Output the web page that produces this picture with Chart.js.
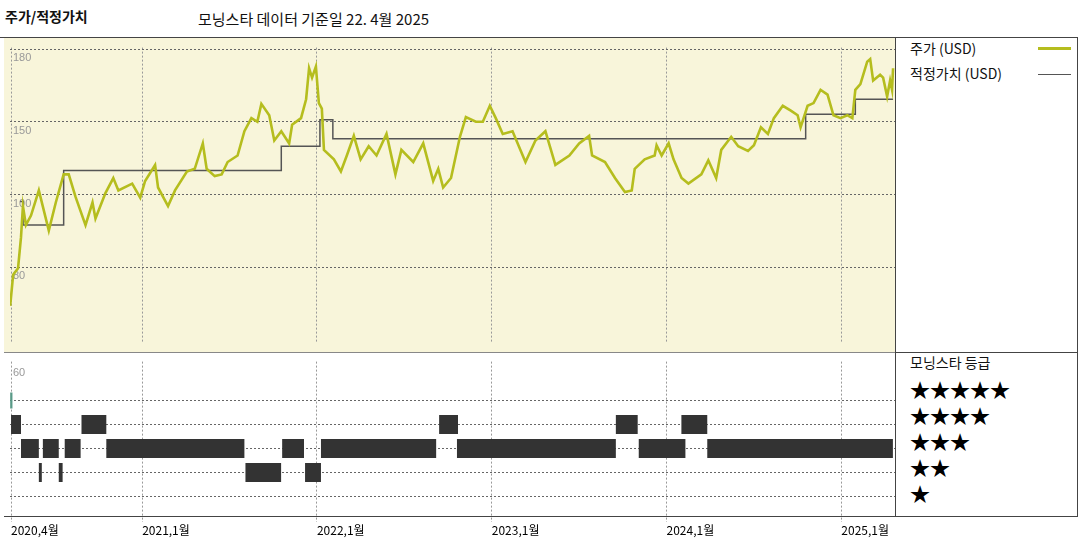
<!DOCTYPE html>
<html><head><meta charset="utf-8">
<script src="https://cdn.jsdelivr.net/npm/chart.js@4"></script>
<style>
body{margin:0;width:1080px;height:540px;background:#fff;position:relative;overflow:hidden;font-family:"Noto Sans CJK KR","DejaVu Sans",sans-serif;}
.t{position:absolute;white-space:nowrap;color:#111;}
#topw{position:absolute;left:4px;top:38px;width:891px;height:314px;background:#f8f5da;}
#botw{position:absolute;left:4px;top:352px;width:891px;height:188px;}
.ln{position:absolute;background:#444;}
</style></head><body>
<div class="t" style="left:5px;top:6px;font-size:14px;font-weight:bold;">주가/적정가치</div>
<div class="t" style="left:198px;top:8px;font-size:15px;">모닝스타 데이터 기준일 22. 4월 2025</div>
<div id="topw"><canvas id="c1"></canvas></div>
<div id="botw"><canvas id="c2"></canvas></div>
<div class="ln" style="left:0;top:37px;width:1078px;height:1px;"></div>
<div class="ln" style="left:895px;top:37px;width:1px;height:480px;"></div>
<div class="ln" style="left:1077px;top:37px;width:1px;height:480px;"></div>
<div class="ln" style="left:895px;top:352px;width:183px;height:1px;"></div>
<div class="ln" style="left:895px;top:516px;width:183px;height:1px;"></div>
<div class="ln" style="left:4px;top:352px;width:891px;height:1px;background:#888"></div>
<div class="ln" style="left:4px;top:516px;width:891px;height:1px;background:#444"></div>
<div class="t" style="left:910px;top:38px;font-size:14px;">주가 (USD)</div>
<div style="position:absolute;left:1038px;top:47px;width:33px;height:3px;background:#b5bd1e"></div>
<div class="t" style="left:910px;top:63px;font-size:14px;">적정가치 (USD)</div>
<div style="position:absolute;left:1038px;top:74px;width:33px;height:1px;background:#555"></div>
<div class="t" style="left:910px;top:352px;font-size:14px;">모닝스타 등급</div>
<div class="t" style="left:910px;top:377px;font-size:20px;line-height:26px;color:#000">★★★★★<br>★★★★<br>★★★<br>★★<br>★</div>
<script>
// Price (x = fractional year, y = USD)
const priceX=[2020.245,2020.262,2020.290,2020.307,2020.318,2020.335,2020.364,2020.409,2020.466,2020.506,2020.551,2020.580,2020.619,2020.676,2020.716,2020.733,2020.790,2020.835,2020.864,2020.943,2020.989,2021.017,2021.074,2021.091,2021.148,2021.188,2021.256,2021.301,2021.347,2021.369,2021.415,2021.455,2021.489,2021.546,2021.585,2021.625,2021.659,2021.682,2021.727,2021.756,2021.796,2021.841,2021.858,2021.909,2021.938,2021.955,2021.972,2021.994,2022.011,2022.028,2022.040,2022.097,2022.137,2022.171,2022.211,2022.250,2022.296,2022.341,2022.398,2022.449,2022.483,2022.551,2022.608,2022.665,2022.694,2022.722,2022.767,2022.818,2022.852,2022.909,2022.949,2022.989,2023.023,2023.063,2023.119,2023.193,2023.250,2023.307,2023.364,2023.444,2023.500,2023.557,2023.574,2023.648,2023.705,2023.762,2023.801,2023.818,2023.875,2023.932,2023.943,2023.972,2024.012,2024.040,2024.086,2024.125,2024.199,2024.239,2024.284,2024.313,2024.370,2024.410,2024.466,2024.500,2024.540,2024.580,2024.614,2024.665,2024.711,2024.750,2024.767,2024.807,2024.841,2024.881,2024.921,2024.955,2024.995,2025.034,2025.063,2025.080,2025.109,2025.148,2025.165,2025.182,2025.222,2025.239,2025.262,2025.279,2025.290,2025.296];
const priceY=[74.1,86.9,89.6,102.4,115.2,107.4,111.3,121.7,105.1,116.7,128.3,128.3,119.0,107.4,116.7,110.1,120.6,126.8,121.7,124.5,118.7,125.6,132.2,122.9,115.2,121.7,129.5,130.6,141.1,130.6,127.6,128.3,133.4,136.1,146.1,151.5,150.0,157.4,152.7,142.3,146.1,141.1,148.8,151.5,159.3,172.1,168.2,172.8,157.7,155.4,138.4,134.5,129.5,136.1,144.2,134.5,139.9,136.1,145.0,128.3,138.4,133.4,141.1,125.6,130.6,122.9,126.8,143.8,151.9,150.0,150.0,156.6,151.5,145.0,146.1,133.4,142.3,146.1,132.2,136.1,141.1,144.2,136.1,133.4,126.8,121.0,121.7,130.6,134.5,136.1,140.3,136.1,141.1,134.5,126.8,124.5,128.3,134.1,126.8,138.4,143.8,139.9,138.0,140.3,147.7,145.0,151.5,156.6,154.6,152.7,147.7,156.6,157.7,163.2,161.2,152.7,151.5,152.7,151.5,163.2,165.5,174.8,175.9,167.0,169.4,168.2,160.4,167.0,163.2,172.1];
// Fair value steps
const fairX=[2020.302,2020.319,2020.551,2021.796,2022.017,2022.091,2024.796,2025.080,2025.296];
const fairY=[117.1,107.4,129.9,139.9,150.8,143.0,153.1,159.3,159.3];
// Star ratings: [start, end] periods
const rating5=[[2020.245,2020.258]];
const rating4=[[2020.250,2020.307],[2020.653,2020.795],[2022.699,2022.807],[2023.710,2023.835],[2024.085,2024.233]];
const rating3=[[2020.307,2020.409],[2020.432,2020.523],[2020.557,2020.648],[2020.795,2021.585],[2021.801,2021.926],[2022.023,2022.682],[2022.801,2023.710],[2023.841,2024.108],[2024.233,2025.295]];
const rating2=[[2020.409,2020.426],[2020.523,2020.545],[2021.591,2021.795],[2021.932,2022.023]];
const rating1=[];
const xTicks=[2020.25,2021,2022,2023,2024,2025];
const xLabels=["2020,4월","2021,1월","2022,1월","2023,1월","2024,1월","2025,1월"];
const yTicks=[180,150,120,90];
const yLabels=["180","150","100","80"];

const XMIN=2020.244,XMAX=2025.307;
function xScale(showLabels){
  return {type:'linear',min:XMIN,max:XMAX,
    afterBuildTicks:s=>{s.ticks=xTicks.map(v=>({value:v}));},
    grid:{color:'#999',drawTicks:false},
    border:{display:false,dash:[2,2]},
    ticks:{display:showLabels,align:'start',padding:2,color:'#000',
      font:{family:'"Noto Sans CJK KR"',size:12},
      callback:(v,i)=>xLabels[i]}};
}
const common={responsive:true,maintainAspectRatio:false,animation:false,
  layout:{padding:0},plugins:{legend:{display:false},tooltip:{enabled:false}},
  elements:{point:{radius:0}}};

new Chart(document.getElementById('c1'),{type:'line',
  data:{datasets:[
    {data:priceX.map((x,i)=>({x,y:priceY[i]})),borderColor:'#b5bd1e',borderWidth:2.6,tension:0},
    {data:fairX.map((x,i)=>({x,y:fairY[i]})),borderColor:'#555',borderWidth:1.5,stepped:'before'}
  ]},
  options:{...common,scales:{
    x:xScale(false),
    y:{min:59,max:180.6,
      afterBuildTicks:s=>{s.ticks=yTicks.map(v=>({value:v}));},
      grid:{color:'#666',drawTicks:false},border:{display:false,dash:[2,2]},
      ticks:{mirror:true,padding:3,labelOffset:9,color:'#999',font:{size:11,family:'"Liberation Sans"'},
        callback:(v,i)=>yLabels[i]}}
  }}});

function segs(list,y){
  const d=[];
  list.forEach(([a,b])=>{d.push({x:a,y},{x:b,y},{x:b,y:null});});
  return d;
}
const rowY=[5,4,3,2,1];
const rList=[rating5,rating4,rating3,rating2,rating1];
new Chart(document.getElementById('c2'),{type:'line',
  data:{datasets:rList.map((l,i)=>({data:segs(l,rowY[i]),borderColor:i===0?'#5a9a88':'#333',
    borderWidth:i===0?16:19,borderCapStyle:'butt',spanGaps:false}))},
  options:{...common,scales:{
    x:xScale(true),
    y:{min:-0.05,max:6.62,
      afterBuildTicks:s=>{s.ticks=[1,2,3,4,5,6.4].map(v=>({value:v}));},
      grid:{color:c=>c.tick&&c.tick.value>6?'rgba(0,0,0,0)':'#666',drawTicks:false},border:{display:false,dash:[2,2]},
      ticks:{mirror:true,padding:3,labelOffset:6,color:'#999',font:{size:11,family:'"Liberation Sans"'},
        callback:v=>v>6?'60':''}}
  }}});
</script>
</body></html>
